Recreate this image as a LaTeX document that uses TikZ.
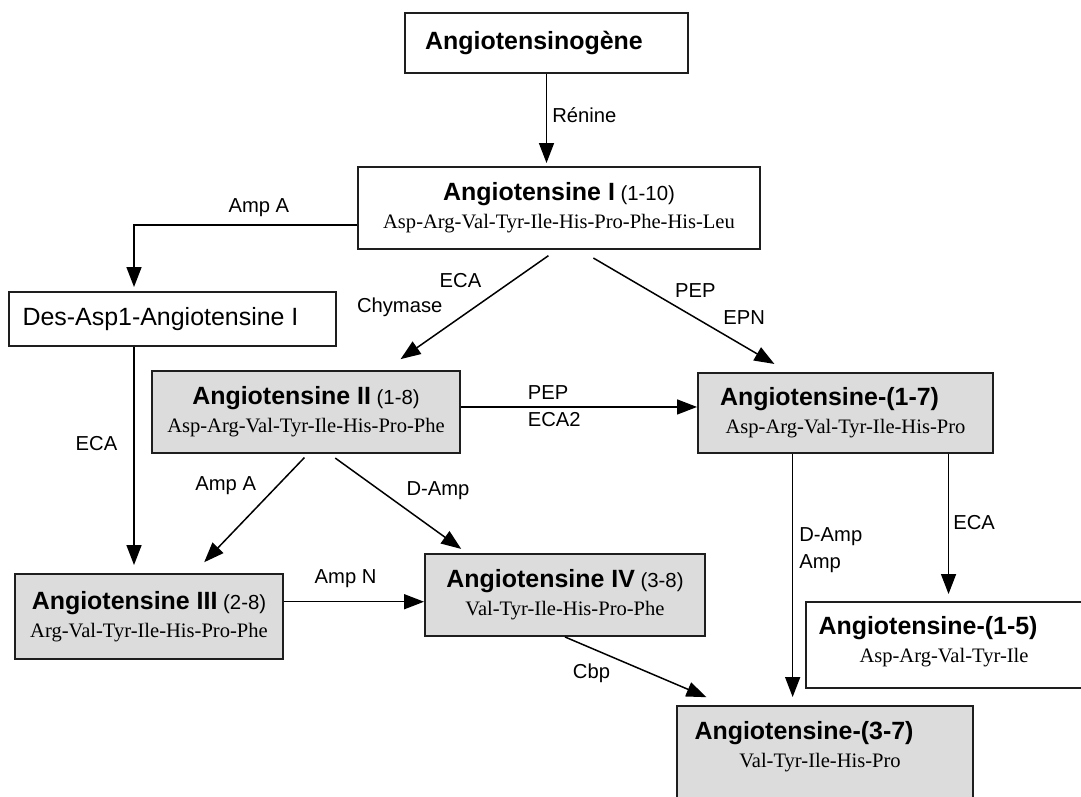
\documentclass[tikz,border=0pt]{standalone}
\usepackage{fontspec}
\setmainfont{Liberation Sans}
\newfontfamily\seqfont{Liberation Serif}
\usetikzlibrary{arrows.meta,calc}

\newlength{\pix}
\setlength{\pix}{0.02cm}
\definecolor{boxgrey}{RGB}{220,220,220}
\definecolor{boxline}{RGB}{30,30,30}

\newcommand{\pname}[1]{{\bfseries\fontsize{14.2}{16}\selectfont #1}}
\newcommand{\prange}[1]{{\fontsize{11.6}{16}\selectfont #1}}
\newcommand{\pseq}[1]{{\seqfont\fontsize{11.7}{16}\selectfont #1}}
\newcommand{\nudge}[1]{\hspace*{-#1\pix}}

\tikzset{
  whitebox/.style={draw=boxline, line width=1.1pt, fill=white, align=center, inner sep=0pt},
  greybox/.style={whitebox, fill=boxgrey},
  link/.style={line width=0.85pt, -{Triangle[length=0.4cm,width=0.3cm]}},
  gap/.style={shorten >=#1\pix},
  gap/.default=7,
  enz/.style={font=\fontsize{11.5}{15.3}\selectfont, inner sep=0pt},
}

\begin{document}
\begin{tikzpicture}[x=0.02cm, y=-0.02cm, font=\fontsize{11.5}{16}\selectfont]
  \useasboundingbox (0,0) rectangle (1081,797);
  \clip (0,0) rectangle (1081,797);

  \node[whitebox, minimum width=283\pix, minimum height=60\pix] (gen) at (546.5,43)
    {\pname{\nudge{25}Angiotensinogène}};
  \node[whitebox, minimum width=402\pix, minimum height=82\pix] (angI) at (559,208)
    {\pname{Angiotensine I} \prange{(1-10)}\\ \pseq{Asp-Arg-Val-Tyr-Ile-His-Pro-Phe-His-Leu}};
  \node[whitebox, minimum width=327\pix, minimum height=54\pix] (des) at (172.5,319)
    {\fontsize{14.2}{16}\selectfont\nudge{24}Des-Asp1-Angiotensine I};
  \node[greybox, minimum width=308\pix, minimum height=82\pix] (angII) at (306,412)
    {\pname{Angiotensine II} \prange{(1-8)}\\ \pseq{Asp-Arg-Val-Tyr-Ile-His-Pro-Phe}};
  \node[greybox, minimum width=295\pix, minimum height=80\pix] (ang17) at (845.5,413)
    {\nudge{32}\pname{Angiotensine-(1-7)}\\ \pseq{Asp-Arg-Val-Tyr-Ile-His-Pro}};
  \node[greybox, minimum width=268\pix, minimum height=85\pix] (angIII) at (149,616.5)
    {\pname{Angiotensine III} \prange{(2-8)}\\ \pseq{Arg-Val-Tyr-Ile-His-Pro-Phe}};
  \node[greybox, minimum width=280\pix, minimum height=82\pix] (angIV) at (565,595)
    {\pname{Angiotensine IV} \prange{(3-8)}\\ \pseq{Val-Tyr-Ile-His-Pro-Phe}};
  \node[whitebox, minimum width=294\pix, minimum height=86\pix] (ang15) at (953,645) {};
  \node[align=center, inner sep=0pt] (ang15txt) at (944,642)
    {\nudge{32}\pname{Angiotensine-(1-5)}\\ \pseq{Asp-Arg-Val-Tyr-Ile}};
  \node[greybox, minimum width=296\pix, minimum height=104\pix] (ang37) at (825,758) {};
  \node[align=center, inner sep=0pt] (ang37txt) at (820,747)
    {\nudge{32}\pname{Angiotensine-(3-7)}\\ \pseq{Val-Tyr-Ile-His-Pro}};

  \draw[link, gap=3] (gen) -- (gen |- angI.north)
    node[enz, pos=0.45, right=5\pix] {Rénine};

  \coordinate (angIw) at ($(angI.north west)!0.7!(angI.south west)$);
  \coordinate (desn) at ($(des.north west)!0.383!(des.north east)$);
  \coordinate (dess) at ($(des.south west)!0.383!(des.south east)$);
  \draw[link, gap=4] (angIw) -| (desn)
    node[enz, pos=0.22, above=7\pix] {Amp A};
  \draw[link, gap=8] (dess) -- (dess |- angIII.north)
    node[enz, pos=0.425, left=16\pix] {ECA};

  \coordinate (angIa) at ($(angI.south west)!0.494!(angI.south east)$);
  \coordinate (angIb) at ($(angI.south west)!0.551!(angI.south east)$);
  \coordinate (angIIn) at ($(angII.north west)!0.755!(angII.north east)$);
  \coordinate (ang17n) at ($(ang17.north west)!0.307!(ang17.north east)$);
  \draw[link, gap=19, shorten <=10\pix] (angIa) -- (angIIn)
    node[enz, pos=0.254, left=31\pix] {ECA}
    node[enz, pos=0.475, left=32\pix] {Chymase};
  \draw[link, gap=16, shorten <=16\pix] (angIb) -- (ang17n)
    node[enz, pos=0.33, right=26\pix] {PEP}
    node[enz, pos=0.556, right=27\pix] {EPN};

  \coordinate (angIIe) at ($(angII.north east)!0.44!(angII.south east)$);
  \draw[link] (angIIe) -- (angIIe -| ang17.west)
    node[enz, pos=0.28, anchor=south west, yshift=7\pix] {PEP}
    node[enz, pos=0.28, anchor=north west, yshift=-5\pix] {ECA2};

  \coordinate (angIIa) at ($(angII.south west)!0.506!(angII.south east)$);
  \coordinate (angIIb) at ($(angII.south west)!0.576!(angII.south east)$);
  \coordinate (angIIIn) at ($(angIII.north west)!0.666!(angIII.north east)$);
  \coordinate (angIVn) at ($(angIV.north west)!0.152!(angIV.north east)$);
  \draw[link, gap=15, shorten <=5\pix] (angIIa) -- (angIIIn)
    node[enz, pos=0.264, left=21\pix] {Amp A};
  \draw[link, gap=7, shorten <=7\pix] (angIIb) -- (angIVn)
    node[enz, pos=0.366, right=26\pix] {D-Amp};

  \coordinate (angIIIe) at ($(angIII.north east)!0.33!(angIII.south east)$);
  \draw[link] (angIIIe) -- (angIIIe -| angIV.west)
    node[enz, pos=0.44, above=13\pix] {Amp N};

  \coordinate (ang37n) at ($(ang37.north west)!0.164!(ang37.north east)$);
  \draw[link, gap=20] (angIV.south) -- (ang37n)
    node[enz, pos=0.53, left=39\pix] {Cbp};

  \coordinate (ang17a) at ($(ang17.south west)!0.322!(ang17.south east)$);
  \coordinate (ang17b) at ($(ang17.south west)!0.847!(ang17.south east)$);
  \draw[link, gap=8] (ang17a) -- (ang17a |- ang37.north)
    node[enz, pos=0.383, right=6\pix, align=left] {D-Amp\\Amp};
  \draw[link, gap=7] (ang17b) -- (ang17b |- ang15.north)
    node[enz, pos=0.463, right=4\pix] {ECA};
\end{tikzpicture}
\end{document}
